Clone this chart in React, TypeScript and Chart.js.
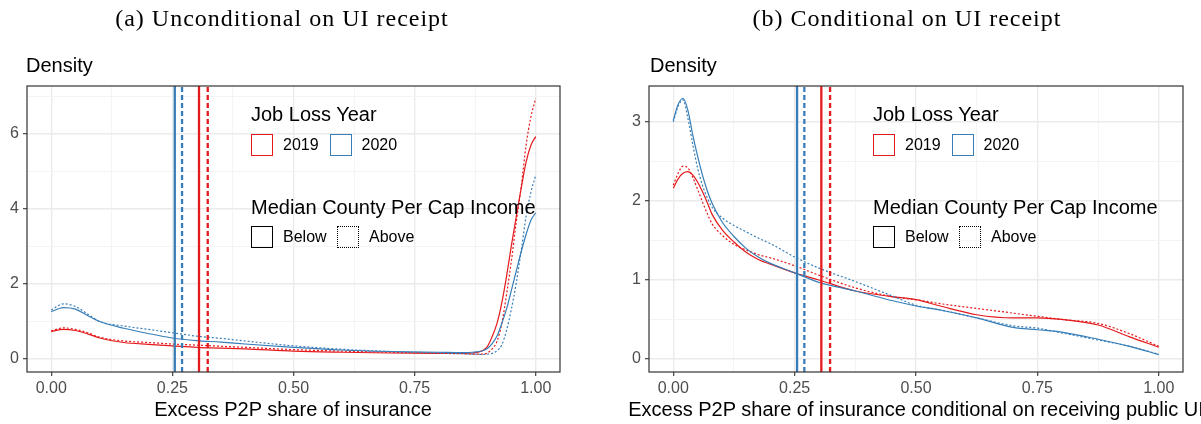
import React, { useEffect, useRef } from 'react';
import { Chart, registerables } from 'chart.js';

Chart.register(...registerables);

const RED = '#E41A1C';
const BLUE = '#377EB8';
const SANS = '"Liberation Sans", Arial, Helvetica, sans-serif';
const SERIF = '"Liberation Serif", "Times New Roman", serif';

// ---------- Panel (a): unconditional ----------
const xA = [0, 0.025, 0.05, 0.075, 0.1, 0.15, 0.2, 0.25, 0.3, 0.35, 0.4, 0.5, 0.6, 0.7, 0.8, 0.85, 0.87, 0.89, 0.9, 0.91, 0.92, 0.93, 0.94, 0.95, 0.96, 0.97, 0.98, 0.99, 1.0];
const a2019Below = [0.73, 0.79, 0.76, 0.67, 0.56, 0.44, 0.39, 0.35, 0.31, 0.29, 0.27, 0.21, 0.18, 0.16, 0.15, 0.15, 0.16, 0.22, 0.33, 0.6, 0.95, 1.5, 2.23, 3.05, 3.82, 4.56, 5.25, 5.7, 5.93];
const a2019Above = [0.75, 0.83, 0.79, 0.7, 0.58, 0.48, 0.44, 0.4, 0.37, 0.34, 0.31, 0.25, 0.21, 0.18, 0.15, 0.14, 0.13, 0.13, 0.16, 0.27, 0.47, 0.95, 1.75, 2.65, 3.68, 4.6, 5.7, 6.46, 6.95];
const a2020Below = [1.26, 1.37, 1.33, 1.16, 1.0, 0.82, 0.68, 0.56, 0.49, 0.45, 0.4, 0.31, 0.24, 0.2, 0.18, 0.17, 0.18, 0.22, 0.28, 0.41, 0.61, 0.95, 1.35, 1.85, 2.36, 2.86, 3.32, 3.7, 3.9];
const a2020Above = [1.31, 1.47, 1.4, 1.2, 1.0, 0.88, 0.79, 0.7, 0.61, 0.55, 0.48, 0.35, 0.26, 0.2, 0.16, 0.14, 0.13, 0.12, 0.13, 0.15, 0.22, 0.38, 0.78, 1.35, 2.05, 2.9, 3.8, 4.45, 4.9];

// ---------- Panel (b): conditional on UI receipt ----------
const xB = [0, 0.01, 0.02, 0.03, 0.04, 0.05, 0.06, 0.07, 0.08, 0.1, 0.125, 0.15, 0.175, 0.2, 0.25, 0.3, 0.375, 0.45, 0.5, 0.55, 0.625, 0.7, 0.75, 0.8, 0.875, 0.94, 1.0];
const b2019Below = [2.16, 2.28, 2.35, 2.37, 2.33, 2.24, 2.12, 1.98, 1.83, 1.64, 1.48, 1.35, 1.26, 1.2, 1.09, 1.0, 0.86, 0.79, 0.75, 0.67, 0.56, 0.52, 0.52, 0.5, 0.43, 0.28, 0.15];
const b2019Above = [2.2, 2.35, 2.44, 2.42, 2.3, 2.15, 1.99, 1.84, 1.71, 1.57, 1.45, 1.38, 1.32, 1.28, 1.18, 1.06, 0.9, 0.79, 0.75, 0.7, 0.64, 0.58, 0.54, 0.5, 0.45, 0.32, 0.16];
const b2020Below = [3.02, 3.22, 3.3, 3.15, 2.84, 2.57, 2.33, 2.13, 1.97, 1.74, 1.55, 1.4, 1.29, 1.21, 1.09, 0.97, 0.86, 0.74, 0.67, 0.62, 0.52, 0.4, 0.37, 0.34, 0.25, 0.16, 0.055];
const b2020Above = [3.0, 3.2, 3.28, 3.05, 2.72, 2.42, 2.2, 2.04, 1.92, 1.79, 1.69, 1.61, 1.53, 1.46, 1.29, 1.15, 0.98, 0.8, 0.68, 0.62, 0.52, 0.42, 0.39, 0.33, 0.24, 0.16, 0.06];

// Medians (vertical lines)
const median2020Below = 0.255;
const median2020Above = 0.27;
const median2019Below = 0.305;
const median2019Above = 0.323;

// Ticks
const xTicks = [0, 0.25, 0.5, 0.75, 1];
const xTickLabels = ['0.00', '0.25', '0.50', '0.75', '1.00'];
const yTicksA = [0, 2, 4, 6];
const yTicksB = [0, 1, 2, 3];

// Legend text
const legendYearTitle = 'Job Loss Year';
const legendYears = ['2019', '2020'];
const legendIncomeTitle = 'Median County Per Cap Income';
const legendIncome = ['Below', 'Above'];

type PanelSpec = {
  x: number[];
  r0: number[]; r1: number[]; b0: number[]; b1: number[];
  yTicks: number[];
  yMin: number; yMax: number;
  yAxisW: number; padRight: number;
};

function minorTicks(major: number[], lo: number, hi: number) {
  const step = major[1] - major[0];
  const out: number[] = [];
  const first = major[0] - step;
  for (let v = first; v <= major[major.length - 1] + step + 1e-9; v += step / 2) {
    const r = Math.round(v * 1000) / 1000;
    if (r >= lo && r <= hi) out.push(r);
  }
  return out;
}

const boxPlugin = {
  id: 'panelBox',
  afterDraw(chart: any) {
    const { ctx, chartArea } = chart;
    ctx.save();
    ctx.strokeStyle = '#333333';
    ctx.lineWidth = 1.2;
    ctx.strokeRect(chartArea.left, chartArea.top, chartArea.right - chartArea.left, chartArea.bottom - chartArea.top);
    ctx.restore();
  },
};

function buildConfig(p: PanelSpec): any {
  const pts = (ys: number[]) => p.x.map((x, i) => ({ x, y: ys[i] }));
  const vline = (x: number, color: string, dashed: boolean) => ({
    data: [{ x, y: p.yMin }, { x, y: p.yMax }],
    borderColor: color,
    borderWidth: 2.3,
    borderDash: dashed ? [5, 3] : [],
    pointRadius: 0,
    tension: 0,
  });
  const curve = (ys: number[], color: string, dotted: boolean) => ({
    data: pts(ys),
    borderColor: color,
    borderWidth: 1.2,
    borderDash: dotted ? [2, 2] : [],
    pointRadius: 0,
    cubicInterpolationMode: 'monotone',
  });
  const xAll = minorTicks(xTicks, -0.05, 1.05);
  const yAll = minorTicks(p.yTicks, p.yMin, p.yMax);
  const isMajX = (v: number) => xTicks.some((t) => Math.abs(t - v) < 1e-6);
  const isMajY = (v: number) => p.yTicks.some((t) => Math.abs(t - v) < 1e-6);
  return {
    type: 'line',
    data: {
      datasets: [
        vline(median2019Above, RED, true),
        vline(median2019Below, RED, false),
        vline(median2020Above, BLUE, true),
        vline(median2020Below, BLUE, false),
        curve(p.b1, BLUE, true),
        curve(p.b0, BLUE, false),
        curve(p.r1, RED, true),
        curve(p.r0, RED, false),
      ],
    },
    options: {
      animation: false,
      responsive: false,
      maintainAspectRatio: false,
      devicePixelRatio: 1,
      events: [],
      layout: { padding: { top: 86, right: p.padRight, left: 0, bottom: 0 } },
      plugins: { legend: { display: false }, tooltip: { enabled: false }, title: { display: false } },
      scales: {
        x: {
          type: 'linear',
          min: -0.05,
          max: 1.05,
          afterBuildTicks: (s: any) => { s.ticks = xAll.map((v) => ({ value: v })); },
          afterFit: (s: any) => { s.height = 52; },
          border: { display: false },
          grid: {
            color: (c: any) => (isMajX(c.tick.value) ? '#EBEBEB' : '#F3F3F3'),
            lineWidth: (c: any) => (isMajX(c.tick.value) ? 1.4 : 0.9),
            tickColor: (c: any) => (isMajX(c.tick.value) ? '#333333' : 'rgba(0,0,0,0)'),
            tickWidth: 1.1,
            tickLength: 4,
          },
          ticks: {
            autoSkip: false,
            maxRotation: 0,
            padding: 3,
            color: '#4D4D4D',
            font: { family: SANS, size: 16 },
            callback: (v: number) => {
              const i = xTicks.findIndex((t) => Math.abs(t - v) < 1e-6);
              return i >= 0 ? xTickLabels[i] : '';
            },
          },
        },
        y: {
          type: 'linear',
          min: p.yMin,
          max: p.yMax,
          afterBuildTicks: (s: any) => { s.ticks = yAll.map((v) => ({ value: v })); },
          afterFit: (s: any) => { s.width = p.yAxisW; },
          border: { display: false },
          grid: {
            color: (c: any) => (isMajY(c.tick.value) ? '#EBEBEB' : '#F3F3F3'),
            lineWidth: (c: any) => (isMajY(c.tick.value) ? 1.4 : 0.9),
            tickColor: (c: any) => (isMajY(c.tick.value) ? '#333333' : 'rgba(0,0,0,0)'),
            tickWidth: 1.1,
            tickLength: 4,
          },
          ticks: {
            autoSkip: false,
            padding: 4,
            color: '#4D4D4D',
            font: { family: SANS, size: 16 },
            callback: (v: number) => (isMajY(v) ? String(v) : ''),
          },
        },
      },
    },
    plugins: [boxPlugin],
  };
}

function ChartPanel({ spec, left, width }: { spec: PanelSpec; left: number; width: number }) {
  const ref = useRef<HTMLCanvasElement | null>(null);
  useEffect(() => {
    if (!ref.current) return;
    const chart = new Chart(ref.current, buildConfig(spec));
    return () => chart.destroy();
  }, [spec]);
  return (
    <canvas
      ref={ref}
      width={width}
      height={424}
      style={{ position: 'absolute', left, top: 0, width, height: 424 }}
    />
  );
}

const txt = (s: string, left: number, cy: number, size: number, extra: any = {}) => (
  <div
    style={{
      position: 'absolute',
      left,
      top: cy - size * 0.6,
      height: size * 1.2,
      lineHeight: `${size * 1.2}px`,
      fontFamily: SANS,
      fontSize: size,
      color: '#000',
      whiteSpace: 'nowrap',
      ...extra,
    }}
  >
    {s}
  </div>
);

const keyBox = (left: number, top: number, color: string, style: string) => (
  <div
    style={{
      position: 'absolute',
      left,
      top,
      width: 22,
      height: 22,
      boxSizing: 'border-box',
      border: `1.5px ${style} ${color}`,
      background: 'transparent',
    }}
  />
);

function Legend({ ox }: { ox: number }) {
  return (
    <>
      {txt(legendYearTitle, 251 + ox, 114, 20)}
      {keyBox(251 + ox, 134, RED, 'solid')}
      {txt(legendYears[0], 283 + ox, 145, 16)}
      {keyBox(329.5 + ox, 134, BLUE, 'solid')}
      {txt(legendYears[1], 361.5 + ox, 145, 16)}
      {txt(legendIncomeTitle, 251 + ox, 207, 20)}
      {keyBox(251 + ox, 226, '#000', 'solid')}
      {txt(legendIncome[0], 283 + ox, 237, 16)}
      {keyBox(337 + ox, 226, '#000', 'dotted')}
      {txt(legendIncome[1], 369 + ox, 237, 16)}
    </>
  );
}

const specA: PanelSpec = { x: xA, r0: a2019Below, r1: a2019Above, b0: a2020Below, b1: a2020Above, yTicks: yTicksA, yMin: -0.347, yMax: 7.28, yAxisW: 27, padRight: 40 };
const specB: PanelSpec = { x: xB, r0: b2019Below, r1: b2019Above, b0: b2020Below, b1: b2020Above, yTicks: yTicksB, yMin: -0.165, yMax: 3.455, yAxisW: 49, padRight: 18 };

const titleStyle: any = { position: 'absolute', top: 3, transform: 'translateX(-50%)', fontFamily: SERIF, fontSize: 24, letterSpacing: 1.0, whiteSpace: 'nowrap', lineHeight: '30px', color: '#000' };

export default function App() {
  return (
    <div style={{ position: 'fixed', left: 0, top: 0, width: 1201, height: 424, overflow: 'hidden', background: '#fff' }}>
      <ChartPanel spec={specA} left={0} width={600} />
      <ChartPanel spec={specB} left={600} width={601} />
      <div style={{ ...titleStyle, left: 282 }}>(a) Unconditional on UI receipt</div>
      <div style={{ ...titleStyle, left: 907 }}>(b) Conditional on UI receipt</div>
      {txt('Density', 26, 65, 20)}
      {txt('Density', 650, 65, 20)}
      <Legend ox={0} />
      <Legend ox={622} />
      {txt('Excess P2P share of insurance', 293, 409, 20, { transform: 'translateX(-50%)' })}
      {txt('Excess P2P share of insurance conditional on receiving public UI', 916, 409, 20, { transform: 'translateX(-50%)' })}
    </div>
  );
}
